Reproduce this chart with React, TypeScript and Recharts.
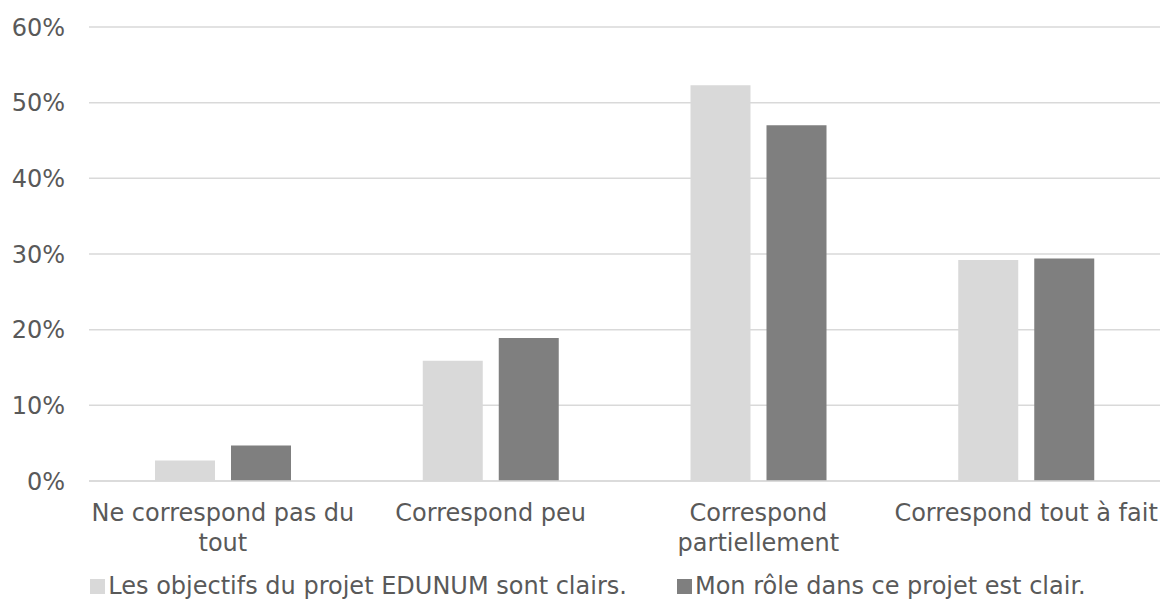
import React from "react";
import { BarChart, Bar, XAxis, YAxis, CartesianGrid, Legend } from "recharts";

const categories = ["Ne correspond pas du tout", "Correspond peu", "Correspond partiellement", "Correspond tout à fait"];
const tickLines = [["Ne correspond pas du", "tout"], ["Correspond peu"], ["Correspond", "partiellement"], ["Correspond tout à fait"]];
const objectifs = [2.7, 15.9, 52.3, 29.2];
const role = [4.7, 18.9, 47.0, 29.4];
const yTicks = [0, 10, 20, 30, 40, 50, 60];
const seriesNames = ["Les objectifs du projet EDUNUM sont clairs.", "Mon rôle dans ce projet est clair."];
const COULEURS = ["#d9d9d9", "#7f7f7f"];

const FONT = "'DejaVu Sans', Verdana, sans-serif";
const TXT = "#595959";

const data = categories.map((c, i) => ({ categorie: c, objectifs: objectifs[i], role: role[i] }));

function TickX(props: any) {
  const { x, y, index } = props;
  const lines = tickLines[index] || [];
  return (
    <text x={x} y={y} textAnchor="middle" fill={TXT} fontSize={24} fontFamily={FONT}>
      {lines.map((l, i) => (
        <tspan key={i} x={x} dy={i === 0 ? 32 : 30}>{l}</tspan>
      ))}
    </text>
  );
}

function Legende() {
  return (
    <div style={{ display: "flex", justifyContent: "center", gap: 50, fontFamily: FONT, fontSize: 24, color: TXT, paddingTop: 16, paddingLeft: 16, lineHeight: "28px" }}>
      {seriesNames.map((n, i) => (
        <div key={n} style={{ display: "flex", alignItems: "center" }}>
          <span style={{ width: 15, height: 15, background: COULEURS[i], display: "inline-block", marginRight: 3 }} />
          <span>{n}</span>
        </div>
      ))}
    </div>
  );
}

export default function App() {
  return (
    <div style={{ position: "absolute", left: 0, top: 0, background: "#fff", overflow: "hidden", width: 1163, height: 606 }}>
      <BarChart width={1163} height={606} data={data} margin={{ top: 27, right: 3, left: 0, bottom: 0 }} barGap={16} barSize={60}>
        <CartesianGrid vertical={false} stroke="#d9d9d9" strokeWidth={1.5} />
        <XAxis dataKey="categorie" height={75} tick={<TickX />} tickLine={false} axisLine={{ stroke: "#d9d9d9", strokeWidth: 1.5 }} interval={0} />
        <YAxis width={89} domain={[0, 60]} ticks={yTicks} tickFormatter={(v) => `${v}%`} tickLine={false} axisLine={false} tickMargin={18}
          tick={{ fill: TXT, fontSize: 24, fontFamily: FONT }} />
        <Legend verticalAlign="bottom" height={50} content={<Legende />} />
        <Bar dataKey="objectifs" name={seriesNames[0]} fill={COULEURS[0]} isAnimationActive={false} />
        <Bar dataKey="role" name={seriesNames[1]} fill={COULEURS[1]} isAnimationActive={false} />
      </BarChart>
    </div>
  );
}
